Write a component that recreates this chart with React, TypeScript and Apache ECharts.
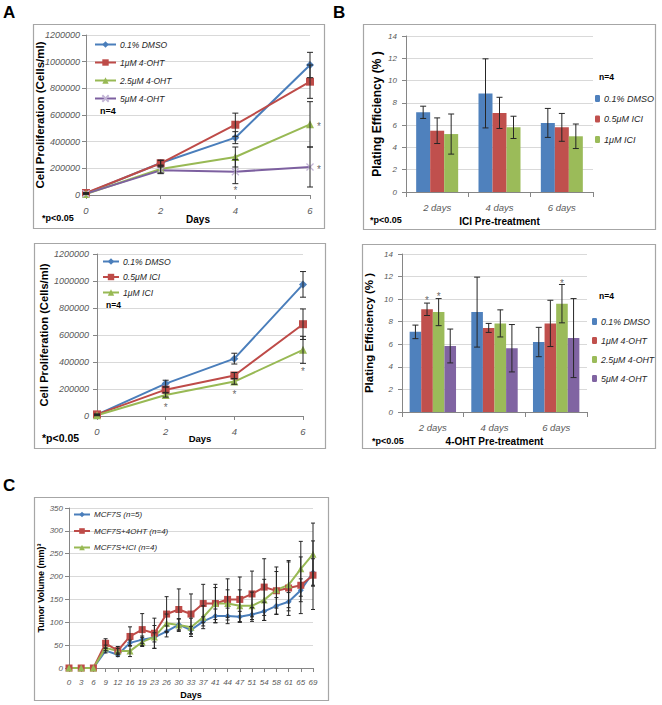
import React, { useEffect, useRef } from "react";
import * as echarts from "echarts";

const FONT = "'Liberation Sans', Arial, sans-serif";
const L_BLUE = "#4A7EBB";
const L_RED = "#BE4B48";
const L_GREEN = "#98B954";
const L_PURPLE = "#7D60A0";
const B_BLUE = "#4F81BD";
const B_RED = "#C0504D";
const B_GREEN = "#9BBB59";
const B_PURPLE = "#8064A2";
const TICK = "#595959";
const AXIS = "#868686";
const GRID = "#D9D9D9";
const FRAME = "#A6A6A6";
const STAR = "#404040";

// ---------- Panel A (top): 4-OHT proliferation ----------
const daysA = ["0", "2", "4", "6"];
const aTopNames = ["0.1% DMSO", "1μM 4-OHT", "2.5μM 4-OHT", "5μM 4-OHT"];
const aTopDMSO = [12000, 240000, 430000, 975000];
const aTopDMSOErr = [3000, 22000, 45000, 95000];
const aTop1 = [15000, 238000, 527000, 850000];
const aTop1Err = [3000, 20000, 87000, 125000];
const aTop25 = [8000, 195000, 285000, 530000];
const aTop25Err = [3000, 30000, 75000, 170000];
const aTop5 = [10000, 185000, 175000, 210000];
const aTop5Err = [3000, 25000, 90000, 150000];
const aTopStars = [
  [2, 50000, 0],
  [3, 530000, 9],
  [3, 210000, 9],
];

// ---------- Panel A (bottom): ICI proliferation ----------
const aBotNames = ["0.1% DMSO", "0.5μM ICI", "1μM ICI"];
const aBotDMSO = [10000, 240000, 425000, 975000];
const aBotDMSOErr = [3000, 25000, 40000, 95000];
const aBot05 = [12000, 195000, 300000, 680000];
const aBot05Err = [3000, 20000, 22000, 113000];
const aBot1 = [5000, 155000, 255000, 490000];
const aBot1Err = [3000, 15000, 20000, 100000];
const aBotStars = [
  [1, 78000, 0],
  [2, 175000, 0],
  [3, 345000, 0],
];

// ---------- Panel B (top): ICI plating efficiency ----------
const bCats = ["2 days", "4 days", "6 days"];
const bTopNames = ["0.1% DMSO", "0.5μM ICI", "1μM ICI"];
const bTopDMSO = [7.15, 8.85, 6.2];
const bTopDMSOErr = [0.55, 3.1, 1.3];
const bTop05 = [5.5, 7.1, 5.8];
const bTop05Err = [1.15, 1.4, 1.25];
const bTop1 = [5.2, 5.8, 5.0];
const bTop1Err = [1.8, 1.0, 1.1];

// ---------- Panel B (bottom): 4-OHT plating efficiency ----------
const bBotNames = ["0.1% DMSO", "1μM 4-OHT", "2.5μM 4-OHT", "5μM 4-OHT"];
const bBotDMSO = [7.1, 8.85, 6.2];
const bBotDMSOErr = [0.6, 3.1, 1.3];
const bBot1 = [9.1, 7.45, 7.85];
const bBot1Err = [0.55, 0.4, 2.05];
const bBot25 = [8.85, 7.85, 9.6];
const bBot25Err = [1.2, 1.2, 1.7];
const bBot5 = [5.85, 5.65, 6.55];
const bBot5Err = [1.5, 2.1, 3.5];
// [category, value, bar index]
const bBotStars = [
  [0, 10.1, 1],
  [0, 10.45, 2],
  [2, 11.6, 2],
];

// ---------- Panel C: tumor volume ----------
const cDays = ["0", "3", "6", "9", "12", "16", "19", "23", "26", "30", "33", "37", "41", "44", "47", "51", "54", "58", "61", "65", "69"];
const cNames = ["MCF7S (n=5)", "MCF7S+4OHT (n=4)", "MCF7S+ICI (n=4)"];
const cBlue = [0, 0, 0, 38, 29, 55, 62, 67, 80, 95, 83, 102, 114, 114, 112, 117, 124, 136, 145, 170, 209];
const cBlueErr = [0, 0, 0, 5, 4, 6, 8, 10, 12, 12, 8, 10, 15, 17, 12, 15, 20, 18, 20, 25, 30];
const cRed = [0, 0, 0, 54, 38, 69, 84, 76, 118, 128, 118, 141, 141, 150, 150, 162, 177, 169, 175, 181, 203];
const cRedErr = [0, 0, 0, 10, 9, 21, 35, 33, 38, 45, 44, 42, 42, 45, 49, 50, 62, 52, 60, 62, 75];
const cGreen = [0, 0, 0, 44, 37, 37, 57, 68, 98, 94, 89, 111, 141, 141, 136, 136, 149, 171, 182, 217, 249];
const cGreenErr = [0, 0, 0, 6, 6, 12, 10, 25, 20, 14, 20, 25, 35, 30, 35, 30, 45, 40, 50, 60, 68];

// ---------- helpers ----------
const txt = (text: string, x: number, y: number, size: number, extra: any = {}) => ({
  type: "text",
  x,
  y,
  silent: true,
  style: {
    text,
    fontFamily: FONT,
    fontSize: size,
    fontWeight: "bold",
    fill: "#000",
    verticalAlign: "middle",
    ...extra,
  },
});

const frame = (x: number, y: number, w: number, h: number) => ({
  type: "rect",
  silent: true,
  shape: { x, y, width: w, height: h },
  style: { fill: "none", stroke: FRAME, lineWidth: 1.2 },
});

const errSeries = (vals: number[], errs: number[], capW: number, dx = 0, color = "#262626") => ({
  type: "custom",
  silent: true,
  z: 6,
  clip: false,
  itemStyle: { color },
  encode: { x: 0, y: 1 },
  data: vals.map((v, i) => [i, v, errs[i], dx]),
  renderItem: (_p: any, api: any) => {
    const i = api.value(0);
    const v = api.value(1);
    const e = api.value(2);
    const off = api.value(3);
    if (!e) return null;
    const t = api.coord([i, v + e]);
    const b = api.coord([i, v - e]);
    const x = t[0] + off;
    const st = { stroke: color, lineWidth: 1 };
    return {
      type: "group",
      children: [
        { type: "line", shape: { x1: x, y1: t[1], x2: x, y2: b[1] }, style: st },
        { type: "line", shape: { x1: x - capW / 2, y1: t[1], x2: x + capW / 2, y2: t[1] }, style: st },
        { type: "line", shape: { x1: x - capW / 2, y1: b[1], x2: x + capW / 2, y2: b[1] }, style: st },
      ],
    };
  },
});

// asterisks: invisible scatter points labelled "*"
const starSeries = (stars: number[][], size: number, offFn: (s: number[]) => number) => ({
  type: "scatter",
  silent: true,
  z: 7,
  symbol: "circle",
  symbolSize: 1,
  clip: false,
  itemStyle: { color: "rgba(0,0,0,0)" },
  label: {
    show: true,
    formatter: "*",
    position: "inside",
    color: STAR,
    fontFamily: FONT,
    fontSize: size,
  },
  data: stars.map((s) => ({ value: [s[0], s[1]], label: { offset: [offFn(s), 2] } })),
});

const lineS = (name: string, data: number[], color: string, symbol: string, size: number, itemStyle: any = null) => ({
  type: "line",
  name,
  data,
  symbol,
  symbolSize: size,
  z: 3,
  lineStyle: { color, width: 2 },
  itemStyle: itemStyle || { color },
});

const barS = (name: string, data: number[], color: string, w: number) => ({
  type: "bar",
  name,
  data,
  barWidth: w,
  barGap: "0%",
  z: 2,
  itemStyle: { color },
});

const catAxis = (data: string[], size: number, margin: number, name: string, nameGap: number, nameSize: number, boundaryGap: boolean) => ({
  type: "category",
  data,
  boundaryGap,
  axisLine: { lineStyle: { color: AXIS, width: 1 } },
  axisTick: { show: true, length: 4, lineStyle: { color: AXIS } },
  axisLabel: { fontFamily: FONT, fontSize: size, fontStyle: "italic", color: TICK, margin, interval: 0 },
  name,
  nameLocation: "middle",
  nameGap,
  nameMoveOverlap: false,
  nameTextStyle: { fontFamily: FONT, fontSize: nameSize, fontWeight: "bold", color: "#000" },
});

const valAxis = (max: number, interval: number, size: number, margin: number, name: string, nameGap: number, nameSize: number) => ({
  type: "value",
  min: 0,
  max,
  interval,
  axisLine: { show: true, lineStyle: { color: AXIS, width: 1 } },
  axisTick: { show: true, length: 4, lineStyle: { color: AXIS } },
  splitLine: { lineStyle: { color: GRID, width: 1 } },
  axisLabel: { fontFamily: FONT, fontSize: size, fontStyle: "italic", color: TICK, margin, formatter: (v: number) => String(v) },
  name,
  nameLocation: "middle",
  nameRotate: 90,
  nameGap,
  nameMoveOverlap: false,
  nameTextStyle: { fontFamily: FONT, fontSize: nameSize, fontWeight: "bold", color: "#000" },
});

const legend = (data: string[], left: number, top: number, iw: number, ih: number, gap: number, size: number) => ({
  data,
  orient: "vertical",
  left,
  top,
  itemWidth: iw,
  itemHeight: ih,
  itemGap: gap,
  padding: 0,
  selectedMode: false,
  textStyle: { fontFamily: FONT, fontSize: size, fontStyle: "italic", color: "#262626", padding: [0, 0, 0, -1] },
});

const crossSymbol = "path://M0,0L10,10M10,0L0,10";

// ---------- options ----------
const optATop = {
  animation: false,
  grid: { left: 86, top: 35, width: 224, height: 160 },
  xAxis: catAxis(daysA, 9.5, 10, "Days", 19, 10, false),
  yAxis: valAxis(1200000, 200000, 9, 6, "Cell Proliferation (Cells/ml)", 40, 11.5),
  legend: legend(aTopNames, 94, 40, 21, 8, 9, 8.5),
  graphic: [
    frame(33.5, 24.5, 291, 204),
    txt("A", 3, 12, 17, {}),
    txt("n=4", 100, 111, 9),
    txt("*p<0.05", 42, 218, 9),
  ],
  series: [
    lineS(aTopNames[0], aTopDMSO, L_BLUE, "diamond", 8),
    lineS(aTopNames[1], aTop1, L_RED, "rect", 8),
    lineS(aTopNames[2], aTop25, L_GREEN, "triangle", 8),
    lineS(aTopNames[3], aTop5, L_PURPLE, crossSymbol, 7, { color: "#C3B5D6", borderColor: "#C3B5D6", borderWidth: 1.3 }),
    errSeries(aTopDMSO, aTopDMSOErr, 6),
    errSeries(aTop1, aTop1Err, 6),
    errSeries(aTop25, aTop25Err, 6),
    errSeries(aTop5, aTop5Err, 6),
    starSeries(aTopStars, 10, (s) => s[2]),
  ],
};

const optABot = {
  animation: false,
  grid: { left: 97, top: 19, width: 206, height: 162 },
  xAxis: catAxis(daysA, 9.5, 10, "Days", 17.5, 9.5, false),
  yAxis: valAxis(1200000, 200000, 9, 8, "Cell Proliferation (Cells/ml)", 48, 11.2),
  legend: legend(aBotNames, 102, 22, 16, 8, 6.5, 8.6),
  graphic: [
    frame(34.5, 8.5, 291, 205),
    txt("n=4", 106, 70, 8.5),
    txt("*p<0.05", 42, 203, 10.5),
  ],
  series: [
    lineS(aBotNames[0], aBotDMSO, L_BLUE, "diamond", 8),
    lineS(aBotNames[1], aBot05, L_RED, "rect", 8),
    lineS(aBotNames[2], aBot1, L_GREEN, "triangle", 8),
    errSeries(aBotDMSO, aBotDMSOErr, 6),
    errSeries(aBot05, aBot05Err, 6),
    errSeries(aBot1, aBot1Err, 6),
    starSeries(aBotStars, 10, () => 0),
  ],
};

const bwTop = 14;
const optBTop = {
  animation: false,
  grid: { left: 76, top: 36, width: 187, height: 156 },
  xAxis: { ...catAxis(bCats, 9.5, 10, "ICI Pre-treatment", 24, 10, true), axisTick: { show: true, length: 5, lineStyle: { color: AXIS } } },
  yAxis: valAxis(14, 2, 8, 9, "Plating Efficiency (% )", 23, 12),
  legend: legend(bTopNames, 265, 94, 5, 7, 11.5, 9),
  graphic: [
    frame(33.5, 24.5, 292, 205),
    txt("B", 3, 12, 17, {}),
    txt("n=4", 269, 77, 8.5),
    txt("*p<0.05", 40, 220, 9),
  ],
  series: [
    barS(bTopNames[0], bTopDMSO, B_BLUE, bwTop),
    barS(bTopNames[1], bTop05, B_RED, bwTop),
    barS(bTopNames[2], bTop1, B_GREEN, bwTop),
    errSeries(bTopDMSO, bTopDMSOErr, 6, -bwTop),
    errSeries(bTop05, bTop05Err, 6, 0),
    errSeries(bTop1, bTop1Err, 6, bwTop),
  ],
};

const bwBot = 11.6;
const optBBot = {
  animation: false,
  grid: { left: 72, top: 19, width: 185, height: 158 },
  xAxis: { ...catAxis(bCats, 9.5, 10, "4-OHT Pre-treatment", 24, 10, true), axisTick: { show: true, length: 5, lineStyle: { color: AXIS } } },
  yAxis: valAxis(14, 2, 8, 9, "Plating Efficiency (% )", 27, 11.5),
  legend: legend(bBotNames, 262, 82, 5, 7, 10, 8.8),
  graphic: [
    frame(32.5, 9.5, 293, 204),
    txt("n=4", 269, 61, 8.5),
    txt("*p<0.05", 42, 206, 9),
  ],
  series: [
    barS(bBotNames[0], bBotDMSO, B_BLUE, bwBot),
    barS(bBotNames[1], bBot1, B_RED, bwBot),
    barS(bBotNames[2], bBot25, B_GREEN, bwBot),
    barS(bBotNames[3], bBot5, B_PURPLE, bwBot),
    errSeries(bBotDMSO, bBotDMSOErr, 6, -1.5 * bwBot),
    errSeries(bBot1, bBot1Err, 6, -0.5 * bwBot),
    errSeries(bBot25, bBot25Err, 6, 0.5 * bwBot),
    errSeries(bBot5, bBot5Err, 6, 1.5 * bwBot),
    starSeries(bBotStars, 10, (s) => (s[2] - 1.5) * bwBot),
  ],
};

const optC = {
  animation: false,
  grid: { left: 69, top: 38, width: 244, height: 160 },
  xAxis: catAxis(cDays, 8, 10, "Days", 22, 9, false),
  yAxis: valAxis(350, 50, 8, 6, "Tumor Volume (mm)³", 24, 9),
  legend: legend(cNames, 73, 40.5, 16, 7, 8.5, 8),
  graphic: [
    frame(34.5, 27.5, 294, 203),
    txt("C", 3, 15, 17, {}),
  ],
  series: [
    lineS(cNames[0], cBlue, L_BLUE, "diamond", 6),
    lineS(cNames[1], cRed, L_RED, "rect", 7),
    lineS(cNames[2], cGreen, L_GREEN, "triangle", 7),
    errSeries(cBlue, cBlueErr, 4),
    errSeries(cRed, cRedErr, 4),
    errSeries(cGreen, cGreenErr, 4),
  ],
};

function Chart({ left, top, width, height, option }: { left: number; top: number; width: number; height: number; option: any }) {
  const ref = useRef<HTMLDivElement>(null);
  useEffect(() => {
    const c = echarts.init(ref.current!, null, { renderer: "svg" });
    c.setOption(option);
    return () => c.dispose();
  }, [option]);
  return <div ref={ref} style={{ position: "absolute", left, top, width, height }} />;
}

export default function App() {
  return (
    <div style={{ position: "absolute", left: 0, top: 0, width: 662, height: 705, background: "#fff", overflow: "hidden" }}>
      <Chart left={0} top={0} width={330} height={235} option={optATop} />
      <Chart left={0} top={235} width={330} height={235} option={optABot} />
      <Chart left={330} top={0} width={332} height={235} option={optBTop} />
      <Chart left={330} top={235} width={332} height={235} option={optBBot} />
      <Chart left={0} top={470} width={340} height={235} option={optC} />
    </div>
  );
}
